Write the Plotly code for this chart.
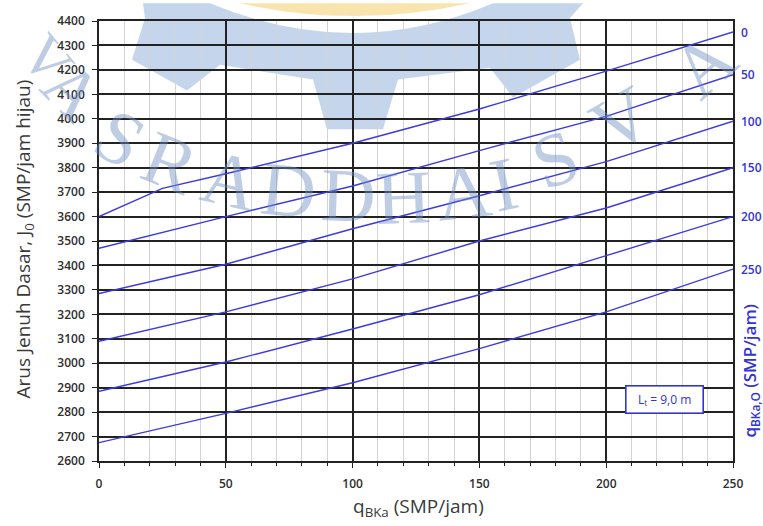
import plotly.graph_objects as go

# ---------------- data ----------------
q_bka_0 = [0, 25, 50, 100, 150, 200, 250]
j0_q0 = [3600, 3715, 3775, 3900, 4040, 4195, 4355]
q_bka = [0, 50, 100, 150, 200, 250]
j0_q50 = [3470, 3600, 3725, 3870, 4010, 4180]
j0_q100 = [3285, 3405, 3550, 3685, 3825, 3990]
j0_q150 = [3090, 3210, 3345, 3500, 3635, 3800]
j0_q200 = [2885, 3005, 3140, 3280, 3440, 3600]
j0_q250 = [2675, 2795, 2920, 3060, 3210, 3385]
series_labels = ["0", "50", "100", "150", "200", "250"]

x_ticks = [0, 50, 100, 150, 200, 250]
y_ticks = list(range(2600, 4401, 100))

# ---------------- layout geometry ----------------
W, H = 763, 526
L, R, T, B = 99, 30, 18, 65
PW, PH = W - L - R, H - T - B


def px(x, y):
    return (x - L) / PW, (H - B - y) / PH


LINE_BLUE = "#3b3be0"
LABEL_BLUE = "#3434d2"
GRID_DARK = "#222222"

fig = go.Figure()

series = [
    (q_bka_0, j0_q0),
    (q_bka, j0_q50),
    (q_bka, j0_q100),
    (q_bka, j0_q150),
    (q_bka, j0_q200),
    (q_bka, j0_q250),
]
for (xs, ys), lab in zip(series, series_labels):
    fig.add_trace(go.Scatter(x=xs, y=ys, mode="lines", name=lab,
                             line=dict(color=LINE_BLUE, width=1.4),
                             showlegend=False, hoverinfo="skip"))

annotations = []
# right-end labels
for (xs, ys), lab in zip(series, series_labels):
    annotations.append(dict(x=xs[-1], y=ys[-1], xref="x", yref="y", text=lab,
                            showarrow=False, xanchor="left", yanchor="middle",
                            xshift=6,
                            font=dict(family="Open Sans", size=12, color=LABEL_BLUE, weight=600)))

# axis titles
ax_, ay_ = px(24, 238)
annotations.append(dict(x=ax_, y=ay_, xref="paper", yref="paper",
                        text="Arus Jenuh Dasar, J<sub>0</sub> (SMP/jam hijau)",
                        textangle=-90, showarrow=False, xanchor="center", yanchor="middle",
                        font=dict(family="Open Sans", size=19, color="#3a3a3a")))
bx_, by_ = px(418, 507)
annotations.append(dict(x=bx_, y=by_, xref="paper", yref="paper",
                        text="q<sub>BKa</sub> (SMP/jam)",
                        showarrow=False, xanchor="center", yanchor="middle",
                        font=dict(family="Open Sans", size=19, color="#3a3a3a")))
cx_, cy_ = px(751, 370)
annotations.append(dict(x=cx_, y=cy_, xref="paper", yref="paper",
                        text="q<sub>BKa,O</sub> (SMP/jam)",
                        textangle=-90, showarrow=False, xanchor="center", yanchor="middle",
                        font=dict(family="Open Sans", size=17, color=LABEL_BLUE, weight=600)))

# Lt box
annotations.append(dict(x=223, y=2853, xref="x", yref="y",
                        text="L<sub>t</sub> = 9,0 m", showarrow=False,
                        xanchor="center", yanchor="middle",
                        bordercolor=LABEL_BLUE, borderwidth=1.6, borderpad=3,
                        bgcolor="white", width=70, height=20,
                        font=dict(family="Open Sans", size=12, color=LABEL_BLUE)))

# watermark letters (char, x px, y px, angle, size)
wm_letters = [
    ("V", 47, 56, 50, 60), ("A", 72, 88, 45, 70),
    ("S", 120, 136, 30, 76), ("R", 170, 160, 22, 76), ("A", 230, 178, 13, 76),
    ("D", 288, 188, 6, 76), ("D", 348, 193, 2, 76), ("H", 403, 195, -2, 76),
    ("A", 463, 190, -6, 76), ("I", 503, 182, -12, 76), ("S", 555, 157, -20, 76),
    ("V", 621, 117, -30, 76), ("A", 703, 62, -42, 76),
]
for ch, lx, ly, ang, sz in wm_letters:
    qx, qy = px(lx, ly)
    annotations.append(dict(x=qx, y=qy, xref="paper", yref="paper", text=ch,
                            textangle=ang, showarrow=False, xanchor="center", yanchor="middle",
                            font=dict(family="Liberation Serif", size=sz,
                                      color="rgba(110,145,195,0.45)")))


def path_from(points, close=True):
    parts = []
    for i, (a, b) in enumerate(points):
        qx, qy = px(a, b)
        parts.append(("M" if i == 0 else "L") + f"{qx:.4f},{qy:.4f}")
    return " ".join(parts) + (" Z" if close else "")


gear_pts = [(143, 0), (145, 15), (132, 57), (187, 88), (220, 62), (313, 77),
            (327, 127), (383, 127), (398, 77), (490, 65), (513, 95), (580, 57),
            (570, 15), (583, 0), (493, 0)]
gp = path_from(gear_pts, close=False)
q1 = px(353, 60)
e1 = px(210, 0)
gp += f" Q{q1[0]:.4f},{q1[1]:.4f} {e1[0]:.4f},{e1[1]:.4f} Z"

ya = px(240, 0)
yb = px(353, 26)
yc = px(470, 0)
yellow = f"M{ya[0]:.4f},{ya[1]:.4f} Q{yb[0]:.4f},{yb[1]:.4f} {yc[0]:.4f},{yc[1]:.4f} Z"

shapes = [
    dict(type="path", path=gp, xref="paper", yref="paper", layer="below",
         fillcolor="#c5d6ec", line=dict(width=0)),
    dict(type="path", path=yellow, xref="paper", yref="paper", layer="below",
         fillcolor="#f8e4ac", line=dict(width=0)),
]

fig.update_layout(
    width=W, height=H,
    margin=dict(l=L, r=R, t=T, b=B),
    paper_bgcolor="white", plot_bgcolor="rgba(0,0,0,0)",
    annotations=annotations, shapes=shapes,
    showlegend=False,
)

fig.update_xaxes(range=[0, 250], tickvals=x_ticks, showgrid=True,
                 gridcolor=GRID_DARK, gridwidth=1.6, zeroline=False,
                 showline=True, linecolor=GRID_DARK, linewidth=1.6, mirror=True,
                 ticks="outside", ticklen=5, tickcolor=GRID_DARK, tickwidth=1.3,
                 ticklabelstandoff=6,
                 tickfont=dict(family="Open Sans", size=12, color="#2e2e2e", weight=600),
                 minor=dict(dtick=10, showgrid=True, gridcolor="#d4d4d4", gridwidth=1,
                            ticks="outside", ticklen=3, tickcolor=GRID_DARK, tickwidth=1.2))
fig.update_yaxes(range=[2600, 4400], tickvals=y_ticks, showgrid=True,
                 gridcolor=GRID_DARK, gridwidth=1.6, zeroline=False,
                 showline=True, linecolor=GRID_DARK, linewidth=1.6, mirror=True,
                 ticks="outside", ticklen=5, tickcolor=GRID_DARK, tickwidth=1.3,
                 ticklabelstandoff=5,
                 tickfont=dict(family="Open Sans", size=12, color="#2e2e2e", weight=600))

fig.write_html("out.html")
